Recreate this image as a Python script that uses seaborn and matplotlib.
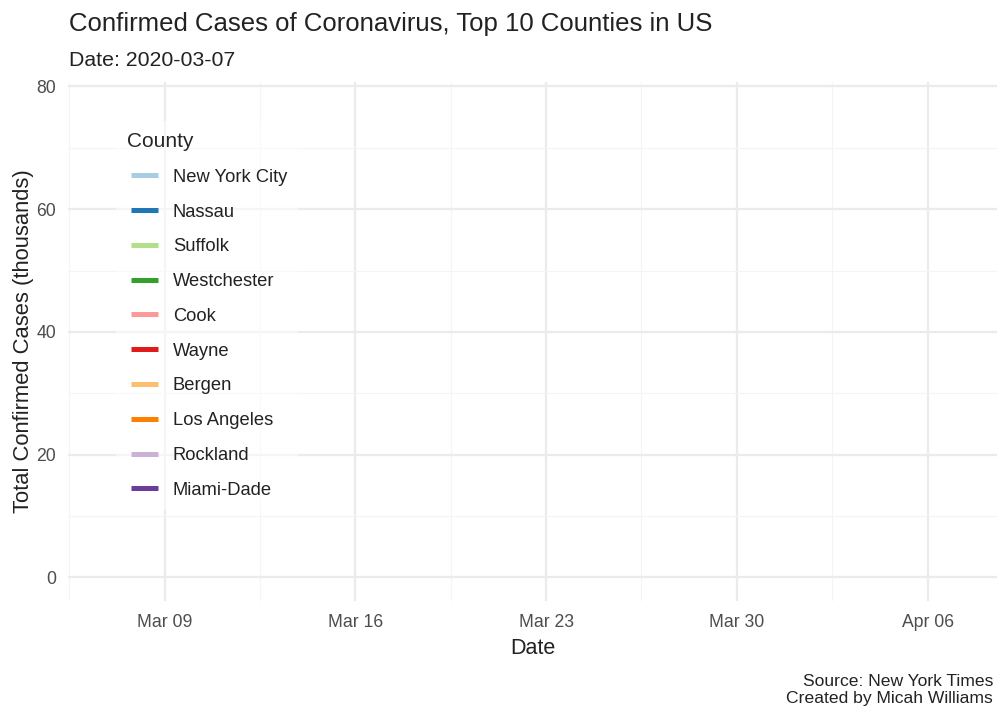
import numpy as np
import pandas as pd
import matplotlib
matplotlib.use('Agg')
import matplotlib.pyplot as plt
import matplotlib.dates as mdates
from matplotlib.ticker import FixedLocator
from matplotlib.legend_handler import HandlerLine2D
import seaborn as sns

# Frame of the animation: only the first day is revealed
counties = ['New York City', 'Nassau', 'Suffolk', 'Westchester', 'Cook',
            'Wayne', 'Bergen', 'Los Angeles', 'Rockland', 'Miami-Dade']
frame_date = '2020-03-07'
cases_thousands = [0.012, 0.005, 0.001, 0.070, 0.006, 0.000, 0.004, 0.014, 0.000, 0.000]

# full range of the animation (axes stay fixed over all frames)
date_first = '2020-03-07'
date_last = '2020-04-07'
cases_max = 76.876  # NYC on Apr 07, thousands

df = pd.DataFrame({'date': pd.to_datetime([frame_date] * len(counties)),
                   'county': counties,
                   'cases': cases_thousands})
df['county'] = pd.Categorical(df['county'], categories=counties, ordered=True)

sns.set_style('white')
plt.rcParams['font.family'] = ['Liberation Sans', 'DejaVu Sans']

fig = plt.figure(figsize=(10.08, 7.2), dpi=100)
ax = fig.add_axes([68 / 1008, 1 - 601 / 720, 929 / 1008, 519 / 720])

palette = sns.color_palette('Paired', 10)
sns.lineplot(data=df, x='date', y='cases', hue='county', hue_order=counties,
             palette=palette, linewidth=3, ax=ax)

# ticks: weekly on Mondays, minor halfway between
ax.xaxis.set_major_locator(mdates.WeekdayLocator(byweekday=mdates.MO))
ax.xaxis.set_major_formatter(mdates.DateFormatter('%b %d'))
mondays = mdates.date2num(pd.date_range('2020-03-02', '2020-04-13', freq='W-MON'))
ax.xaxis.set_minor_locator(FixedLocator(mondays + 3.5))
ax.yaxis.set_major_locator(FixedLocator([0, 20, 40, 60, 80]))
ax.yaxis.set_minor_locator(FixedLocator([10, 30, 50, 70]))

# ggplot-like expansion of 5%
x0 = mdates.date2num(pd.Timestamp(date_first))
x1 = mdates.date2num(pd.Timestamp(date_last))
dx = (x1 - x0) * 0.05
ax.set_xlim(x0 - dx, x1 + dx)
dy = cases_max * 0.05
ax.set_ylim(-dy, cases_max + dy)

ax.grid(which='major', color='#EBEBEB', linewidth=1.6)
ax.grid(which='minor', color='#F4F4F4', linewidth=0.8)
ax.set_axisbelow(True)
for s in ax.spines.values():
    s.set_visible(False)
ax.tick_params(which='both', length=0, labelsize=12.7, labelcolor='#4D4D4D')
ax.tick_params(axis='x', pad=9.5)
ax.tick_params(axis='y', pad=8.5)

ax.set_xlabel('Date', fontsize=15.5, color='#222222', labelpad=5)
ax.set_ylabel('Total Confirmed Cases (thousands)', fontsize=15.8, color='#222222', labelpad=1.5)

fig.text(69 / 1008, 1 - 24 / 720, 'Confirmed Cases of Coronavirus, Top 10 Counties in US',
         fontsize=18.5, va='center', ha='left', color='#222222')
fig.text(69 / 1008, 1 - 60 / 720, 'Date: ' + frame_date,
         fontsize=15.3, va='center', ha='left', color='#222222')
fig.text(993 / 1008, 1 - 690 / 720, 'Source: New York Times\nCreated by Micah Williams',
         fontsize=12.6, va='center', ha='right', color='#222222', linespacing=1.2)

handles, labels = ax.get_legend_handles_labels()
for h in handles:
    h.set_linewidth(3.6)
    h.set_solid_capstyle('butt')
fs_px = 13.2 * 100 / 72
leg = ax.legend(handles, labels, title='County', loc='upper left',
                bbox_to_anchor=((116 - 68) / 929, (601 - 121) / 519),
                borderaxespad=0, borderpad=0.6,
                fontsize=13.2, title_fontsize=15,
                labelspacing=0.97, handlelength=31 / fs_px, handletextpad=15 / fs_px,
                handler_map={h: HandlerLine2D(xpad=4 / fs_px) for h in handles},
                frameon=True, fancybox=False, facecolor='white', edgecolor='none',
                framealpha=0.5)
leg._legend_box.align = 'left'
for t in leg.get_texts():
    t.set_color('#222222')

fig.savefig('out.png', dpi=100)
